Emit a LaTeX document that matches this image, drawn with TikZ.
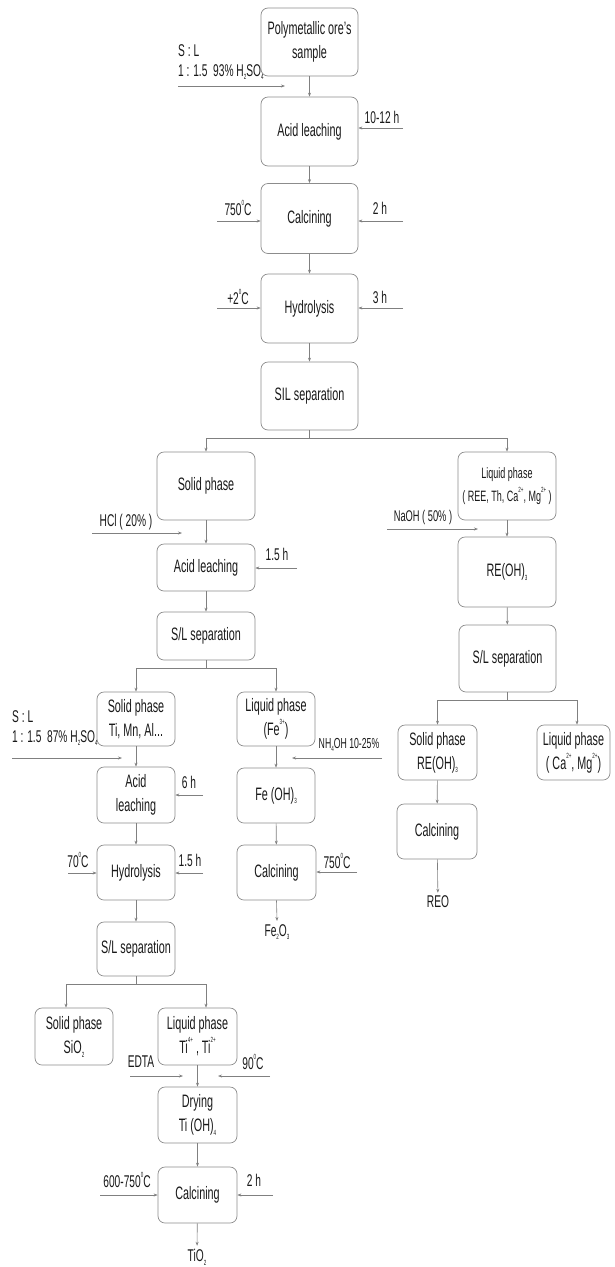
\documentclass[tikz,border=0pt]{standalone}
\usepackage{fontspec}
\setmainfont{Liberation Sans}[FakeStretch=0.6]
\usetikzlibrary{arrows.meta}
\newcommand\mysup[1]{\raisebox{0.62em}{\fontsize{7.5}{7.5}\selectfont #1}}
\newcommand\mysub[1]{\raisebox{-0.22em}{\fontsize{7.5}{7.5}\selectfont #1}}
\tikzset{
  box/.style={draw=black!45, rounded corners=7pt, line width=0.7pt, align=center,
    inner sep=0pt, text=black!90, font=\fontsize{18}{24}\selectfont},
  flow/.style={draw=black!50, line width=0.6pt, -{Stealth[length=4pt,width=3pt]}},
  lbl/.style={font=\fontsize{17}{20}\selectfont, text=black!90, inner sep=0pt, align=left},
  smalllbl/.style={lbl, font=\fontsize{14.5}{18}\selectfont},
  product/.style={lbl, inner sep=3pt},
}
\begin{document}
\begin{tikzpicture}[x=1pt,y=-1pt]
\useasboundingbox (0,0) rectangle (614,1267);

% main column
\node[box, minimum width=97pt, minimum height=68pt] (ore) at (309.5,42) {Polymetallic ore’s\\sample};
\node[box, minimum width=97pt, minimum height=69pt] (al1) at (309.5,131.5) {Acid leaching};
\node[box, minimum width=97pt, minimum height=70pt] (calc1) at (309.5,218.5) {Calcining};
\node[box, minimum width=97pt, minimum height=69pt] (hyd1) at (309.5,308.5) {Hydrolysis};
\node[box, minimum width=97pt, minimum height=68pt] (sil) at (309.5,396) {SIL separation};

% second level
\node[box, minimum width=98pt, minimum height=68pt] (solid1) at (206,486) {Solid phase};
\node[box, minimum width=98pt, minimum height=47pt] (al2) at (206,567.5) {Acid leaching};
\node[box, minimum width=98pt, minimum height=48pt] (sl2) at (206,636) {S/L separation};

\node[box, minimum width=98pt, minimum height=68pt, font=\fontsize{15}{23}\selectfont] (liqR) at (507,486) {Liquid phase\\( REE, Th, Ca\mysup{2+}, Mg\mysup{2+} )};
\node[box, minimum width=98pt, minimum height=70pt] (reoh) at (507,572) {RE(OH)\mysub{3}};
\node[box, minimum width=97pt, minimum height=67pt] (sl4) at (507.5,658.5) {S/L separation};

% third level
\node[box, minimum width=78pt, minimum height=54pt] (solidTi) at (136,719) {Solid phase\\Ti, Mn, Al...};
\node[box, minimum width=78pt, minimum height=54pt] (liqFe) at (276,719) {Liquid phase\\(Fe\mysup{3+})};
\node[box, minimum width=78pt, minimum height=56pt] (al3) at (136,795) {Acid\\leaching};
\node[box, minimum width=78pt, minimum height=55pt] (feoh) at (276,795.5) {Fe (OH)\mysub{3}};
\node[box, minimum width=78pt, minimum height=55pt] (hyd3) at (136,872.5) {Hydrolysis};
\node[box, minimum width=79pt, minimum height=55pt] (calc2) at (276.5,872.5) {Calcining};
\node[box, minimum width=78pt, minimum height=54pt] (sl3) at (136,949) {S/L separation};

\node[box, minimum width=79pt, minimum height=55pt] (solidRE) at (437.5,752.5) {Solid phase\\RE(OH)\mysub{3}};
\node[box, minimum width=73pt, minimum height=55pt] (liqCa) at (573.5,752.5) {Liquid phase\\( Ca\mysup{2+}, Mg\mysup{2+})};
\node[box, minimum width=80pt, minimum height=55pt] (calc4) at (437,831.5) {Calcining};

% bottom
\node[box, minimum width=78pt, minimum height=57pt] (solidSi) at (74,1036.5) {Solid phase\\SiO\mysub{2}};
\node[box, minimum width=79pt, minimum height=57pt] (liqTi) at (197.5,1036.5) {Liquid phase\\Ti\mysup{4+} , Ti\mysup{2+}};
\node[box, minimum width=79pt, minimum height=56pt] (dry) at (197.5,1115) {Drying\\Ti (OH)\mysub{4}};
\node[box, minimum width=79pt, minimum height=56pt] (calc3) at (197.5,1195) {Calcining};

% products
\node[product] (fe2o3) at (277,932) {Fe\mysub{2}O\mysub{3}};
\node[product] (reo) at (438,902) {REO};
\node[product] (tio2) at (197,1257) {TiO\mysub{2}};

% main flow
\draw[flow] (ore) -- (al1);
\draw[flow] (al1) -- (calc1);
\draw[flow] (calc1) -- (hyd1);
\draw[flow] (hyd1) -- (sil);
\coordinate (b1) at (309.5,438);
\draw[flow] (sil.south) -- (b1) -| (solid1.north);
\draw[flow] (b1) -| (liqR.north);
\draw[flow] (solid1) -- (al2);
\draw[flow] (al2) -- (sl2);
\coordinate (b2) at (206,668);
\draw[flow] (sl2.south) -- (b2) -| (solidTi.north);
\draw[flow] (b2) -| (liqFe.north);
\draw[flow] (solidTi) -- (al3);
\draw[flow] (al3) -- (hyd3);
\draw[flow] (hyd3) -- (sl3);
\coordinate (b3) at (136,984);
\draw[flow] (sl3.south) -- (b3) -| ([xshift=-8pt]solidSi.north);
\draw[flow] (b3) -| ([xshift=8.5pt]liqTi.north);
\draw[flow] (liqTi) -- (dry);
\draw[flow] (dry) -- (calc3);
\draw[flow] (calc3) -- (tio2);
\draw[flow] (liqFe) -- (feoh);
\draw[flow] (feoh) -- (calc2);
\draw[flow] (calc2.south) -- (fe2o3.north);
\draw[flow] (liqR) -- (reoh);
\draw[flow] (reoh) -- (sl4);
\coordinate (b4) at (507.5,700);
\draw[flow] (sl4.south) -- (b4) -| (solidRE.north);
\draw[flow] (b4) -| ([xshift=3.5pt]liqCa.north);
\draw[flow] (solidRE) -- (calc4);
\draw[flow] (calc4) -- (reo);

% side inputs
\node[lbl, anchor=west] (slA) at (178,62) {S : L\\1 : 1.5\ \ 93\% H\mysub{2}SO\mysub{4}};
\coordinate (sA0) at (178,86); \coordinate (sA1) at (285,86);
\draw[flow] (sA0) -- (sA1);

\node[lbl] (t1) at (382,117) {10-12 h};
\coordinate (t1s) at (403,128);
\draw[flow] (t1s) -- (al1.east |- t1s);

\node[lbl] (t2) at (238,208) {750\mysup{0}C};
\coordinate (t2s) at (217,221);
\draw[flow] (t2s) -- (calc1.west |- t2s);
\node[lbl] (t3) at (380,208) {2 h};
\coordinate (t3s) at (403,221);
\draw[flow] (t3s) -- (calc1.east |- t3s);

\node[lbl] (t4) at (238,297) {+2\mysup{0}C};
\coordinate (t4s) at (217,308);
\draw[flow] (t4s) -- (hyd1.west |- t4s);
\node[lbl] (t5) at (380,297) {3 h};
\coordinate (t5s) at (403,308);
\draw[flow] (t5s) -- (hyd1.east |- t5s);

\node[lbl] (t6) at (126,522) {HCl ( 20\% )};
\coordinate (t6s) at (92,533); \coordinate (t6e) at (182,533);
\draw[flow] (t6s) -- (t6e);
\node[lbl] (t7) at (277,554) {1.5 h};
\coordinate (t7s) at (297,568);
\draw[flow] (t7s) -- (al2.east |- t7s);

\node[lbl, font=\fontsize{15.5}{18}\selectfont] (t8) at (423,517) {NaOH ( 50\% )};
\coordinate (t8s) at (387,529); \coordinate (t8e) at (478,529);
\draw[flow] (t8s) -- (t8e);

\node[lbl, anchor=west] (slB) at (12,728) {S : L\\1 : 1.5\ \ 87\% H\mysub{2}SO\mysub{4}};
\coordinate (sB0) at (12,758); \coordinate (sB1) at (122,758);
\draw[flow] (sB0) -- (sB1);

\node[smalllbl] (t9) at (349,745) {NH\mysub{4}OH 10-25\%};
\coordinate (t9s) at (382,758); \coordinate (t9e) at (292,758);
\draw[flow] (t9s) -- (t9e);

\node[lbl] (t10) at (189,782) {6 h};
\coordinate (t10s) at (203,795);
\draw[flow] (t10s) -- (al3.east |- t10s);
\node[lbl] (t11) at (78,860) {70\mysup{0}C};
\coordinate (t11s) at (68,873);
\draw[flow] (t11s) -- (hyd3.west |- t11s);
\node[lbl] (t12) at (190,860) {1.5 h};
\coordinate (t12s) at (203,873);
\draw[flow] (t12s) -- (hyd3.east |- t12s);

\node[lbl] (t13) at (337,861) {750\mysup{0}C};
\coordinate (t13s) at (357,872);
\draw[flow] (t13s) -- (calc2.east |- t13s);

\node[lbl] (t14) at (141,1062) {EDTA};
\coordinate (t14s) at (130,1076); \coordinate (t14e) at (183,1076);
\draw[flow] (t14s) -- (t14e);
\node[lbl] (t15) at (253,1062) {90\mysup{0}C};
\coordinate (t15s) at (270,1076); \coordinate (t15e) at (218,1076);
\draw[flow] (t15s) -- (t15e);

\node[lbl] (t16) at (127,1180) {600-750\mysup{0}C};
\coordinate (t16s) at (100,1195);
\draw[flow] (t16s) -- (calc3.west |- t16s);
\node[lbl] (t17) at (254,1180) {2 h};
\coordinate (t17s) at (273,1195);
\draw[flow] (t17s) -- (calc3.east |- t17s);
\end{tikzpicture}
\end{document}
